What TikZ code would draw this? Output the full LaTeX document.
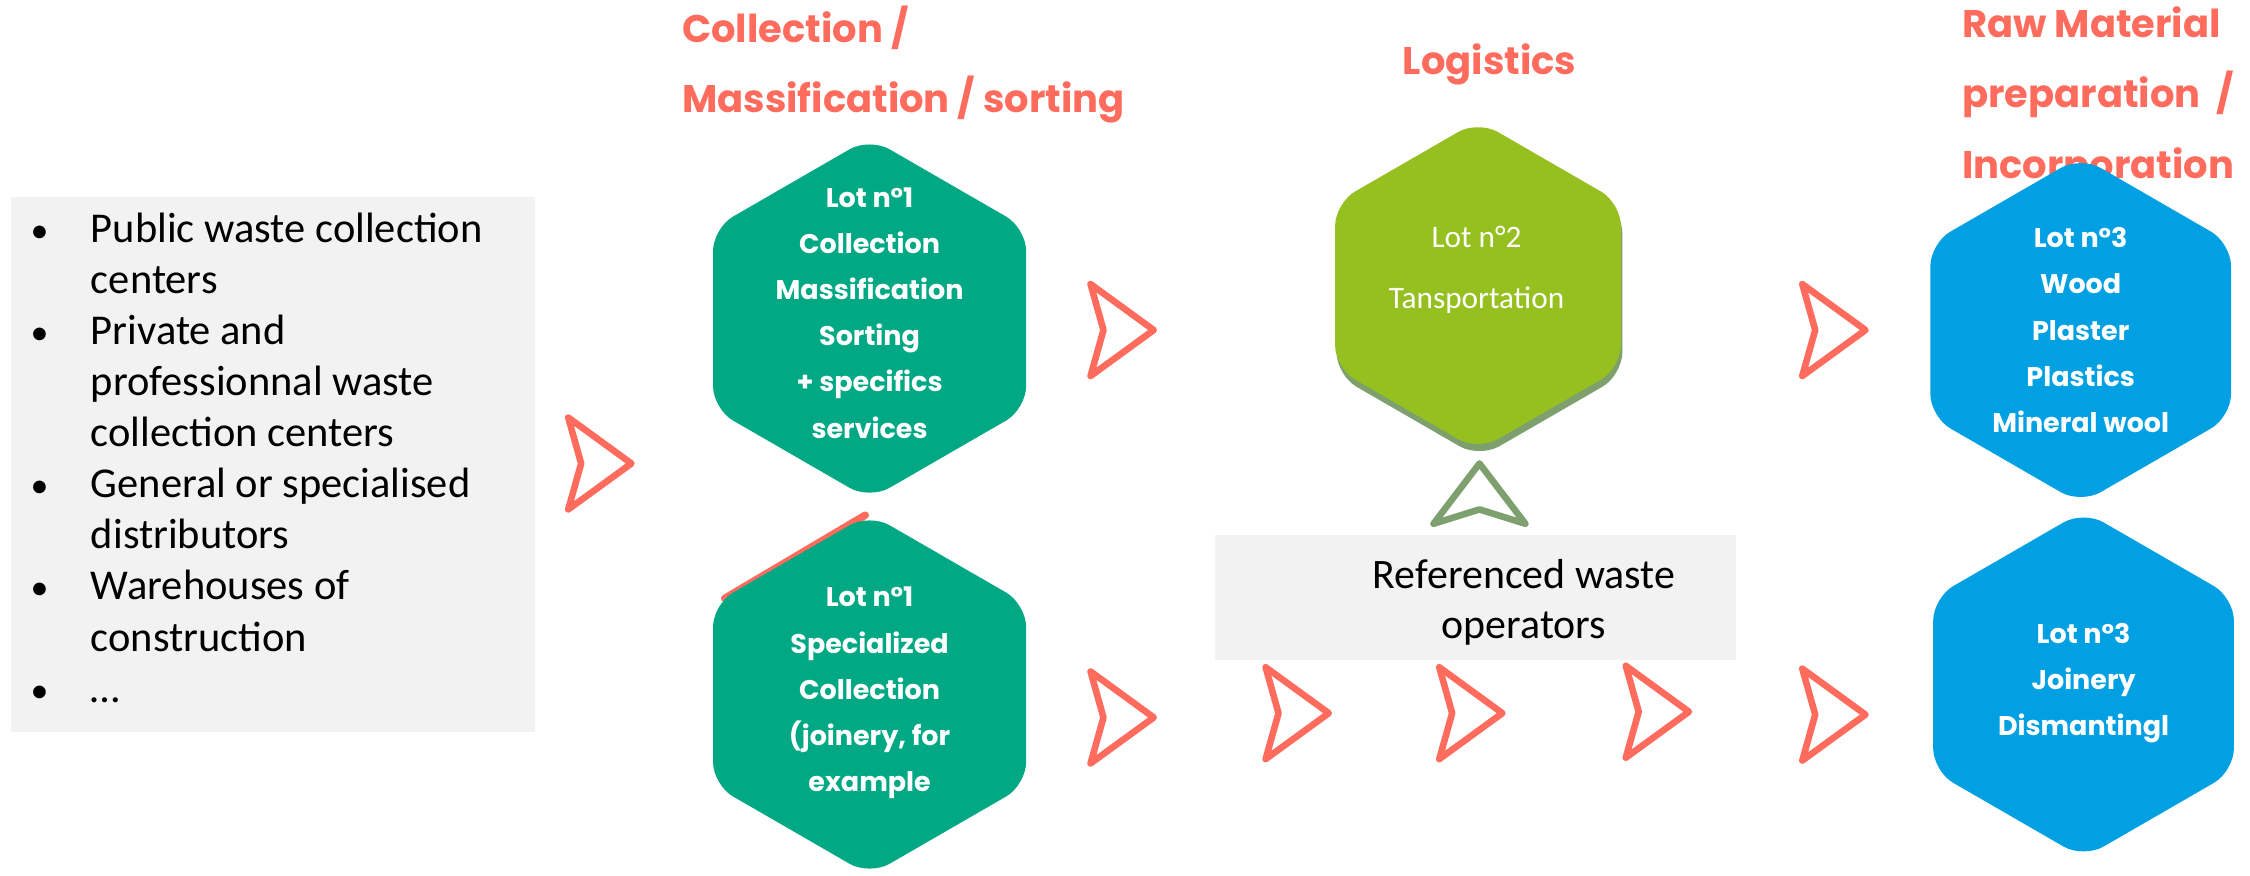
\documentclass[tikz,border=0pt]{standalone}
\usepackage{fontspec}
\setmainfont{Carlito}
\newfontfamily\gothic{Poppins}
\usetikzlibrary{shapes.geometric}

\definecolor{lotteal}{RGB}{0,168,132}
\definecolor{lotblue}{RGB}{0,160,227}
\definecolor{lotlime}{RGB}{149,192,31}
\definecolor{coral}{RGB}{255,107,92}
\definecolor{sage}{RGB}{125,160,110}
\definecolor{boxgrey}{RGB}{242,242,242}

\newcommand{\blt}{{\fontsize{12.5}{12.5}\selectfont•}}

\tikzset{
  hexa/.style={regular polygon, regular polygon sides=6, shape border rotate=90,
    rounded corners=8pt, inner sep=0pt, outer sep=0pt},
  hextxt/.style={text=white, align=center, inner sep=0pt,
    font=\gothic\bfseries\fontsize{9.4}{16.1}\selectfont},
  head/.style={text=coral, align=left, inner sep=0pt,
    font=\gothic\bfseries\fontsize{13.4}{24.5}\selectfont},
  greybox/.style={fill=boxgrey, draw=none, inner sep=0pt},
  chev/.style={draw=coral, line width=2.3pt, line join=round},
}

\begin{document}
\begin{tikzpicture}[x=0.5pt, y=-0.5pt]
\useasboundingbox (0,0) rectangle (1568,610);

% column titles
\node[head, anchor=west] (hcol) at (475,45) {Collection /\\Massification / sorting};
\node[head] (hlog) at (1038,45) {Logistics};
\node[head, anchor=west] (hraw) at (1367,68) {Raw Material\\preparation~ /\\Incorporation};

% sources
\node[greybox, minimum width=182.5pt, minimum height=186.5pt] (src) at (190.5,323.5) {};
\node[anchor=west, inner sep=0pt, font=\fontsize{14.8}{17.8}\selectfont] (srctxt) at (21,322) {%
  \begin{tabular}{@{}p{21pt}@{}l@{}}
  \blt & Public waste collection\\
    & centers\\
  \blt & Private and\\
    & professionnal waste\\
    & collection centers\\
  \blt & General or specialised\\
    & distributors\\
  \blt & Warehouses of\\
    & construction\\
  \blt & …
  \end{tabular}};

% lot 1
\node[hexa, fill=lotteal, minimum size=126pt] (lot1a) at (606,222) {};
\draw[coral, line width=2.6pt, line cap=round] (505,417) -- (603,359);
\node[hexa, fill=lotteal, minimum size=126pt] (lot1b) at (606,484) {};
\node[hextxt] (t1a) at (606,218) {Lot n°1\\Collection\\Massification\\Sorting\\+ specifics\\services};
\node[hextxt] (t1b) at (606,483) {Lot n°1\\Specialized\\Collection\\(joinery, for\\example};

% lot 2
\node[hexa, fill=sage, minimum size=115pt] (lot2s) at (1031,204) {};
\node[hexa, fill=lotlime, minimum size=115pt] (lot2) at (1030,199) {};
\node[text=white, align=center, inner sep=0pt, font=\fontsize{10.9}{21.5}\selectfont] (t2) at (1029,188) {Lot n°2\\Tansportation};

% referenced operators
\node[greybox, minimum width=181.5pt, minimum height=43.5pt] (ops) at (1028.5,416.5) {};
\node[align=center, inner sep=0pt, font=\fontsize{14.6}{17.5}\selectfont] (opstxt) at (1062,420) {Referenced waste\\operators};
\draw[chev, draw=sage] (1031,323) -- (1063,365) -- (1031,355) -- (999,365) -- cycle;

% lot 3
\node[hexa, fill=lotblue, minimum size=121pt] (lot3a) at (1450,230) {};
\node[hexa, fill=lotblue, minimum size=121pt] (lot3b) at (1452,477) {};
\node[hextxt] (t3a) at (1450,230) {Lot n°3\\Wood\\Plaster\\Plastics\\Mineral wool};
\node[hextxt] (t3b) at (1452,476) {Lot n°3\\Joinery\\Dismantingl};

% flow marks
\foreach \x/\y in {396/323, 760/230, 1256/230, 760/500, 882/497, 1003/497, 1133/496, 1256/498}
  \draw[chev, shift={(\x,\y)}] (0,-32) -- (44,0) -- (0,32) -- (9,0) -- cycle;
\end{tikzpicture}
\end{document}
